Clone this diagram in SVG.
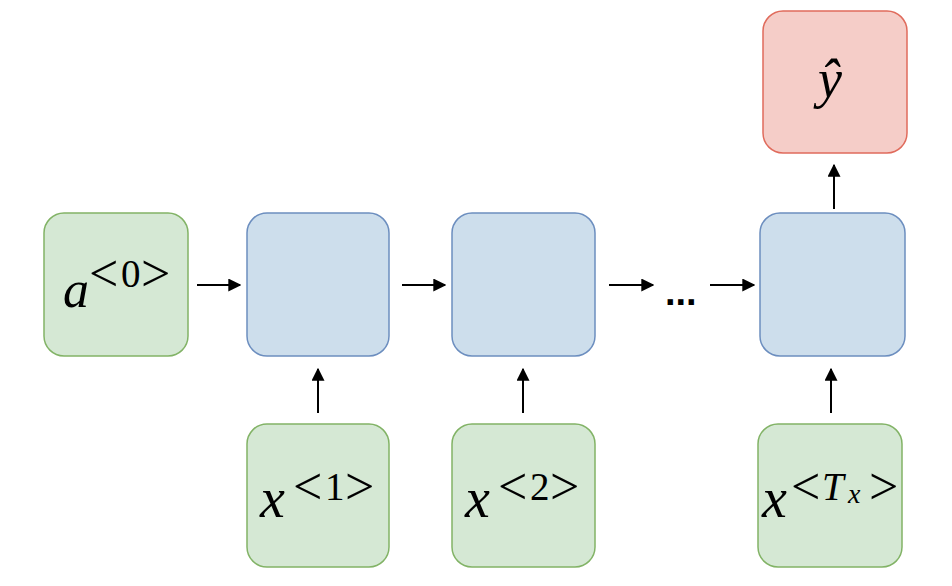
<svg xmlns="http://www.w3.org/2000/svg" width="952" height="586" viewBox="0 0 952 586">
<style>
.g{fill:#d5e8d4;stroke:#82b366;stroke-width:1.5}
.b{fill:#cddeec;stroke:#6c8ebf;stroke-width:1.5}
.r{fill:#f5cdc8;stroke:#e06b5c;stroke-width:1.5}
.m{font-family:"Liberation Serif","DejaVu Serif",serif;fill:#000}
.i{font-style:italic}
.big{font-size:52px}
.lt{font-size:52px}
.sm{font-size:39px}
.c{stroke:#000;stroke-width:2;fill:none;marker-end:url(#ah)}
</style>
<defs>
<marker id="ah" viewBox="0 0 10 10" refX="9" refY="5" markerWidth="6.5" markerHeight="6.5" orient="auto" markerUnits="strokeWidth">
<path d="M0,0 L10,5 L0,10 z" fill="#000"/>
</marker>
</defs>
<rect width="952" height="586" fill="#fff"/>
<g id="a0">
<rect class="g" x="44" y="213" width="144" height="143" rx="20"/>
<text class="m i big" x="63" y="307">a</text>
<text class="m" y="291"><tspan class="lt" x="89">&lt;</tspan><tspan class="sm" x="121" y="287">0</tspan><tspan class="lt" x="141" y="291">&gt;</tspan></text>
</g>
<g id="h1"><rect class="b" x="247" y="213" width="142" height="143" rx="20"/></g>
<g id="h2"><rect class="b" x="452" y="213" width="143" height="143" rx="20"/></g>
<g id="h4"><rect class="b" x="760" y="213" width="145" height="143" rx="20"/></g>
<g id="x1">
<rect class="g" x="247" y="424" width="142" height="143" rx="20"/>
<text class="m i" font-size="56" x="260" y="517">x</text>
<text class="m" y="504"><tspan class="lt" x="293">&lt;</tspan><tspan class="sm" x="325" y="500">1</tspan><tspan class="lt" x="345" y="504">&gt;</tspan></text>
</g>
<g id="x2">
<rect class="g" x="452" y="424" width="143" height="143" rx="20"/>
<text class="m i" font-size="56" x="465" y="517">x</text>
<text class="m" y="504"><tspan class="lt" x="498">&lt;</tspan><tspan class="sm" x="530" y="500">2</tspan><tspan class="lt" x="550" y="504">&gt;</tspan></text>
</g>
<g id="xT">
<rect class="g" x="758" y="424" width="144" height="143" rx="20"/>
<text class="m i" font-size="56" x="762" y="517">x</text>
<text class="m" y="504"><tspan class="lt" x="791">&lt;</tspan><tspan class="sm i" x="822" y="500">T</tspan><tspan class="i" font-size="28" x="848" y="503">x</tspan><tspan class="lt" x="869" y="504">&gt;</tspan></text>
</g>
<g id="yhat">
<rect class="r" x="763" y="11" width="144" height="142" rx="20"/>
<text class="m i" font-size="54" x="830" y="97" text-anchor="middle">ŷ</text>
</g>
<g id="dots">
<text font-family="Liberation Sans,Arial,sans-serif" font-weight="bold" font-size="38" x="665" y="305">...</text>
</g>
<g id="connectors">
<line class="c" x1="197" y1="285" x2="240" y2="285"/>
<line class="c" x1="402" y1="285" x2="445" y2="285"/>
<line class="c" x1="609" y1="285" x2="653" y2="285"/>
<line class="c" x1="710" y1="285" x2="754" y2="285"/>
<line class="c" x1="318" y1="413" x2="318" y2="369"/>
<line class="c" x1="523" y1="413" x2="523" y2="369"/>
<line class="c" x1="831" y1="413" x2="831" y2="369"/>
<line class="c" x1="834" y1="209" x2="834" y2="165"/>
</g>
</svg>
